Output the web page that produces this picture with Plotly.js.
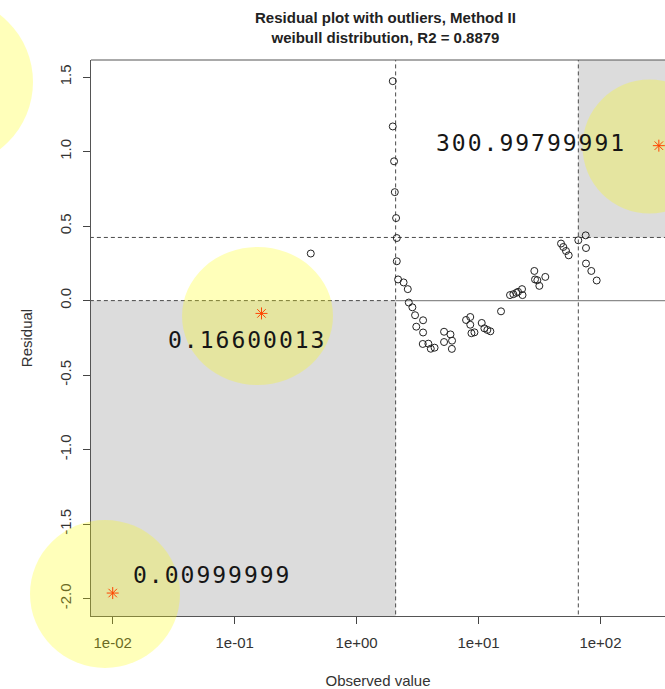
<!DOCTYPE html>
<html>
<head>
<meta charset="utf-8">
<script src="https://cdn.plot.ly/plotly-3.0.1.min.js"></script>
<style>
  html, body { margin: 0; padding: 0; background: #fff; }
  #chart { width: 665px; height: 689px; }
  .annotation-text { letter-spacing: 2px; }
</style>
</head>
<body>
<div id="chart"></div>
<script>
// ---- data ----
const obsX = [0.421, 1.980, 1.980, 2.029, 2.057, 2.108, 2.136, 2.136, 2.189, 2.428,
              2.629, 2.679, 2.867, 3.016, 3.509, 3.086, 3.509, 3.488, 3.877, 4.057,
              4.359, 5.215, 5.885, 5.215, 6.065, 6.041, 7.898, 8.551, 8.551, 8.747,
              9.256, 10.62, 11.16, 11.81, 12.50, 15.29, 18.12, 19.29, 20.40, 21.08,
              22.73, 22.95, 28.67, 29.05, 30.34, 31.51, 35.28, 47.46, 49.56, 52.15,
              54.87, 65.77, 75.63, 76.05, 76.05, 84.08, 93.09];
const residY = [0.316, 1.473, 1.169, 0.935, 0.728, 0.554, 0.420, 0.264, 0.142, 0.122,
                0.077, -0.013, -0.045, -0.098, -0.132, -0.175, -0.214, -0.291, -0.289, -0.323,
                -0.316, -0.209, -0.227, -0.278, -0.269, -0.324, -0.130, -0.110, -0.162, -0.219,
                -0.213, -0.150, -0.186, -0.197, -0.206, -0.072, 0.037, 0.043, 0.052, 0.059,
                0.077, 0.037, 0.199, 0.142, 0.137, 0.099, 0.159, 0.383, 0.360, 0.333,
                0.304, 0.405, 0.438, 0.353, 0.249, 0.199, 0.135];
const outlierX = [0.00999999, 0.16600013, 300.99799991];
const outlierY = [-1.963, -0.086, 1.040];
const outlierLabels = ["0.00999999", "0.16600013", "300.99799991"];
const xCutLow = 2.09;
const xCutHigh = 65.8;
const yCutHigh = 0.424;
const xTickVals = [0.01, 0.1, 1, 10, 100];
const xTickText = ["1e-02", "1e-01", "1e+00", "1e+01", "1e+02"];
const yTickVals = [1.5, 1.0, 0.5, 0.0, -0.5, -1.0, -1.5, -2.0];
const yTickText = ["1.5", "1.0", "0.5", "0.0", "-0.5", "-1.0", "-1.5", "-2.0"];

// ---- styles ----
const FONT = "Liberation Sans, Arial, sans-serif";
const MONO = "DejaVu Sans Mono, monospace";
const FAR_LO = 1e-5, FAR_HI = 1e5, Y_LO = -10, Y_HI = 10;
const dashLine = {color: "#4a4a4a", width: 1, dash: "4px,3px"};

const traces = [
  // shaded quadrants
  {x: [FAR_LO, xCutLow, xCutLow, FAR_LO], y: [Y_LO, Y_LO, 0, 0],
   mode: "lines", fill: "toself", fillcolor: "#dcdcdc", line: {width: 0}, hoverinfo: "skip"},
  {x: [xCutHigh, FAR_HI, FAR_HI, xCutHigh], y: [yCutHigh, yCutHigh, Y_HI, Y_HI],
   mode: "lines", fill: "toself", fillcolor: "#dcdcdc", line: {width: 0}, hoverinfo: "skip"},
  // zero line (solid gray, right part)
  {x: [xCutLow, FAR_HI], y: [0, 0], mode: "lines", line: {color: "#8c8c8c", width: 1.3}, hoverinfo: "skip"},
  // dashed reference lines
  {x: [FAR_LO, xCutLow], y: [0, 0], mode: "lines", line: dashLine, hoverinfo: "skip"},
  {x: [FAR_LO, FAR_HI], y: [yCutHigh, yCutHigh], mode: "lines", line: dashLine, hoverinfo: "skip"},
  {x: [xCutLow, xCutLow], y: [Y_LO, Y_HI], mode: "lines", line: dashLine, hoverinfo: "skip"},
  {x: [xCutHigh, xCutHigh], y: [Y_LO, Y_HI], mode: "lines", line: dashLine, hoverinfo: "skip"},
  // observations
  {x: obsX, y: residY, mode: "markers",
   marker: {symbol: "circle-open", size: 7, color: "#222", line: {width: 1, color: "#222"}}},
  // outliers
  {x: outlierX, y: outlierY, mode: "markers",
   marker: {symbol: "asterisk-open", size: 10, color: "#ff0000", line: {width: 1, color: "#ff0000"}}}
];

const yellow = "rgba(255,255,0,0.27)";
function blob(cx, cy, rx, ry) {
  return {type: "circle", xref: "paper", yref: "paper", xsizemode: "pixel", ysizemode: "pixel",
          xanchor: cx, yanchor: cy, x0: -rx, x1: rx, y0: -ry, y1: ry,
          fillcolor: yellow, line: {width: 0}, layer: "above"};
}

const shapes = [
  // top border of the box
  {type: "line", xref: "paper", yref: "paper", x0: 0, x1: 1, y0: 1, y1: 1,
   line: {color: "#555", width: 1}, layer: "above"},
  blob(-0.2491, 0.9604, 85, 85),
  blob(0.2901, 0.5396, 75.5, 69),
  blob(0.0244, 0.0396, 75, 74),
  blob(0.9730, 0.8444, 67, 67)
];

const labelPos = [[0.0700, 0.0737], [0.1306, 0.4964], [0.5975, 0.8507]];
const annotations = outlierLabels.map((t, i) => ({
  text: t, xref: "paper", yref: "paper", x: labelPos[i][0], y: labelPos[i][1],
  xanchor: "left", yanchor: "middle", showarrow: false,
  font: {family: MONO, size: 23, color: "#161616"}
}));

const layout = {
  width: 665, height: 689,
  margin: {l: 91, r: 0, t: 60, b: 73, pad: 0},
  paper_bgcolor: "#fff", plot_bgcolor: "#fff",
  showlegend: false,
  title: {text: "Residual plot with outliers, Method II<br>weibull distribution, R2 = 0.8879",
          font: {family: FONT, size: 15, weight: "bold", color: "#222"},
          xref: "paper", x: 0.513, xanchor: "center",
          yref: "container", y: 1 - 23 / 689, yanchor: "middle"},
  xaxis: {type: "log", range: [-2.178, 2.529], autorange: false,
          tickvals: xTickVals, ticktext: xTickText,
          ticks: "outside", ticklen: 7, tickcolor: "#444", tickwidth: 1,
          ticklabelstandoff: 6,
          showline: true, linecolor: "#555", linewidth: 1,
          showgrid: false, zeroline: false,
          tickfont: {family: FONT, size: 15, color: "#333"},
          title: {text: "Observed value", font: {family: FONT, size: 15, color: "#333"}, standoff: 27}},
  yaxis: {range: [-2.117, 1.615], autorange: false,
          tickvals: yTickVals, ticktext: yTickText, tickangle: -90,
          ticks: "outside", ticklen: 7, tickcolor: "#444", tickwidth: 1,
          ticklabelstandoff: 6,
          showline: true, linecolor: "#555", linewidth: 1,
          showgrid: false, zeroline: false,
          tickfont: {family: FONT, size: 15, color: "#333"},
          title: {text: "Residual", font: {family: FONT, size: 15, color: "#333"}, standoff: 20}},
  shapes: shapes,
  annotations: annotations
};

Plotly.newPlot("chart", traces, layout, {displayModeBar: false, staticPlot: true});
</script>
</body>
</html>
